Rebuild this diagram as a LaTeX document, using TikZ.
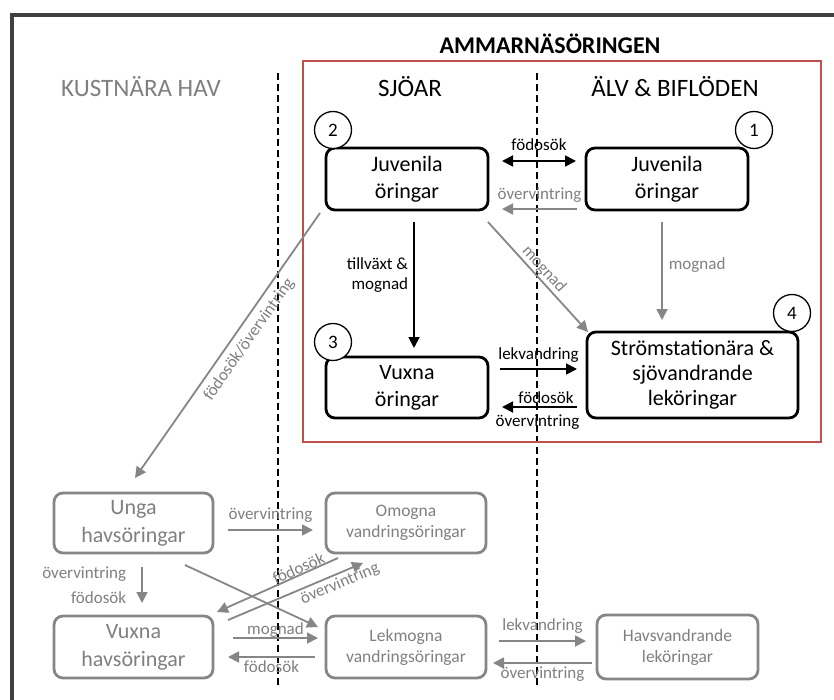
\documentclass[tikz,border=0pt]{standalone}
\usepackage{fontspec}
\setmainfont{Carlito}
\usetikzlibrary{arrows.meta,calc}
\definecolor{gtext}{RGB}{128,128,128}
\definecolor{gline}{RGB}{134,134,134}
\definecolor{redb}{RGB}{192,80,77}
\definecolor{framec}{RGB}{64,64,64}
\begin{document}
\begin{tikzpicture}[x=1pt,y=-1pt,
  >={Triangle[length=11pt,width=11pt]},
  bbox/.style={draw=black, line width=2.8pt, rounded corners=9pt, align=center, font=\fontsize{22}{27}\selectfont, inner sep=0pt, outer sep=0pt},
  gbox/.style={bbox, draw=gline, text=gtext, font=\fontsize{22}{28}\selectfont},
  gsmall/.style={bbox, draw=gline, text=gtext, font=\fontsize{17.5}{21}\selectfont},
  num/.style={circle, draw=black, line width=1.3pt, fill=white, minimum size=37pt, inner sep=0pt, font=\fontsize{19}{19}\selectfont},
  lab/.style={font=\fontsize{17}{20}\selectfont, inner sep=1pt, text=black},
  glab/.style={lab, text=gtext},
  barrow/.style={line width=1.8pt, draw=black, ->},
  garrow/.style={line width=1.8pt, draw=gline, ->},
  sepline/.style={line width=1.6pt, dash pattern=on 7pt off 4pt},
  hdr/.style={font=\fontsize{25}{25}\selectfont, inner sep=0pt}
]
\useasboundingbox (0,0) rectangle (834,700);
\fill[white] (0,0) rectangle (834,700);

% frame
\draw[framec, line width=3.4pt] (12,700) -- (12,15) -- (834,15);

% separators
\draw[sepline] (278,73) -- (278,686);
\draw[sepline] (537,73) -- (537,686);

% red region
\draw[redb, line width=2.8pt] (303,61) rectangle (821,442);

% headers
\node[hdr, font=\fontsize{24}{24}\selectfont\bfseries] (title) at (550,44) {AMMARNÄSÖRINGEN};
\node[hdr] (hsjo) at (410,87) {SJÖAR};
\node[hdr] (halv) at (675,87) {ÄLV \& BIFLÖDEN};
\node[hdr, text=gtext] (hhav) at (141,87) {KUSTNÄRA HAV};

% black boxes
\node[bbox, minimum width=162pt, minimum height=62pt] (b2) at (407,179) {Juvenila\\öringar};
\node[bbox, minimum width=162pt, minimum height=62pt] (b1) at (667,179) {Juvenila\\öringar};
\node[bbox, minimum width=162pt, minimum height=61pt] (b3) at (407,387.5) {Vuxna\\öringar};
\node[bbox, minimum width=211pt, minimum height=86pt, font=\fontsize{22}{25}\selectfont] (b4) at (692.5,375) {Strömstationära \&\\sjövandrande\\leköringar};

% gray boxes
\node[gbox, minimum width=159pt, minimum height=60pt] (u) at (133.5,523) {Unga\\havsöringar};
\node[gsmall, minimum width=160pt, minimum height=60pt] (o) at (406,523) {Omogna\\vandringsöringar};
\node[gbox, minimum width=159pt, minimum height=62pt] (vh) at (133.5,647) {Vuxna\\havsöringar};
\node[gsmall, minimum width=160pt, minimum height=62pt] (lm) at (406,647) {Lekmogna\\vandringsöringar};
\node[gsmall, minimum width=161pt, minimum height=64pt] (hv) at (677.5,647) {Havsvandrande\\leköringar};

% numbers
\node[num] (n2) at (333,130) {2};
\node[num] (n1) at (754,130) {1};
\node[num] (n3) at (333,342) {3};
\node[num] (n4) at (792,313) {4};

% connectors (upper)
\draw[barrow, <->] ([shift={(14,-18)}]b2.east) -- node[lab, yshift=16pt]{födosök} ([shift={(-10,-18)}]b1.west);
\draw[garrow] ([shift={(-9,30)}]b1.west) -- node[glab, yshift=14pt]{övervintring} ([shift={(14,30)}]b2.east);
\draw[barrow] ([shift={(7,12)}]b2.south) -- node[lab, pos=0.42, left=4pt, align=right]{tillväxt \&\\mognad} ([shift={(7,-9)}]b3.north);
\draw[garrow] ([shift={(0,12)}]b2.south east) -- node[glab, sloped, above=0pt, pos=0.49]{mognad} ([shift={(1,0)}]b4.north west);
\draw[garrow] ([shift={(-5,12)}]b1.south) -- node[glab, pos=0.44, right=5pt]{mognad} ($(b4.north -| b1.south)+(-5,-12)$);
\draw[barrow] ([shift={(12,-18.5)}]b3.east) -- node[lab, yshift=14pt]{lekvandring} ([shift={(-10,-6)}]b4.west);
\draw[barrow] ([shift={(-10,32)}]b4.west) -- node[lab, yshift=9pt, xshift=6.5pt]{födosök} node[lab, yshift=-15pt, xshift=-2pt]{övervintring} ([shift={(14,19.5)}]b3.east);
\draw[garrow, <-] ([shift={(1.5,-15)}]u.north) -- node[glab, sloped, below=5pt, pos=0.554]{födosök/övervintring} ([shift={(-6,3)}]b2.south west);

% connectors (lower)
\draw[garrow] ([shift={(15,7)}]u.east) -- node[glab, yshift=15pt]{övervintring} ([shift={(-13,7)}]o.west);
\draw[garrow] ([shift={(8.5,14)}]u.south) -- node[glab, left=14pt, align=right, font=\fontsize{17}{25}\selectfont]{övervintring\\födosök} ([shift={(8.5,-13)}]vh.north);
\draw[garrow] ([shift={(-28,12)}]u.south east) -- ([shift={(-8,-20)}]lm.west);
\draw[garrow, <-] ([shift={(4,-4)}]vh.north east) -- node[glab, sloped, above=0pt, inner sep=0pt, pos=0.697]{födosök} ([shift={(12,5)}]o.south west);
\draw[garrow] ([shift={(15,4)}]vh.north east) -- node[glab, sloped, below=1pt, pos=0.8]{övervintring} ([shift={(37,10)}]o.south west);
\draw[garrow] ([shift={(20,-9)}]vh.east) -- node[glab, yshift=8pt]{mognad} ([shift={(-8,-9)}]lm.west);
\draw[garrow] ([shift={(-11,10)}]lm.west) -- node[glab, yshift=-10pt]{födosök} ([shift={(15,10)}]vh.east);
\draw[garrow] ([shift={(13,-6)}]lm.east) -- node[glab, yshift=15pt]{lekvandring} ([shift={(-11,-6)}]hv.west);
\draw[garrow] ([shift={(-5,16)}]hv.west) -- node[glab, yshift=-11pt]{övervintring} ([shift={(7,16)}]lm.east);
\end{tikzpicture}
\end{document}
